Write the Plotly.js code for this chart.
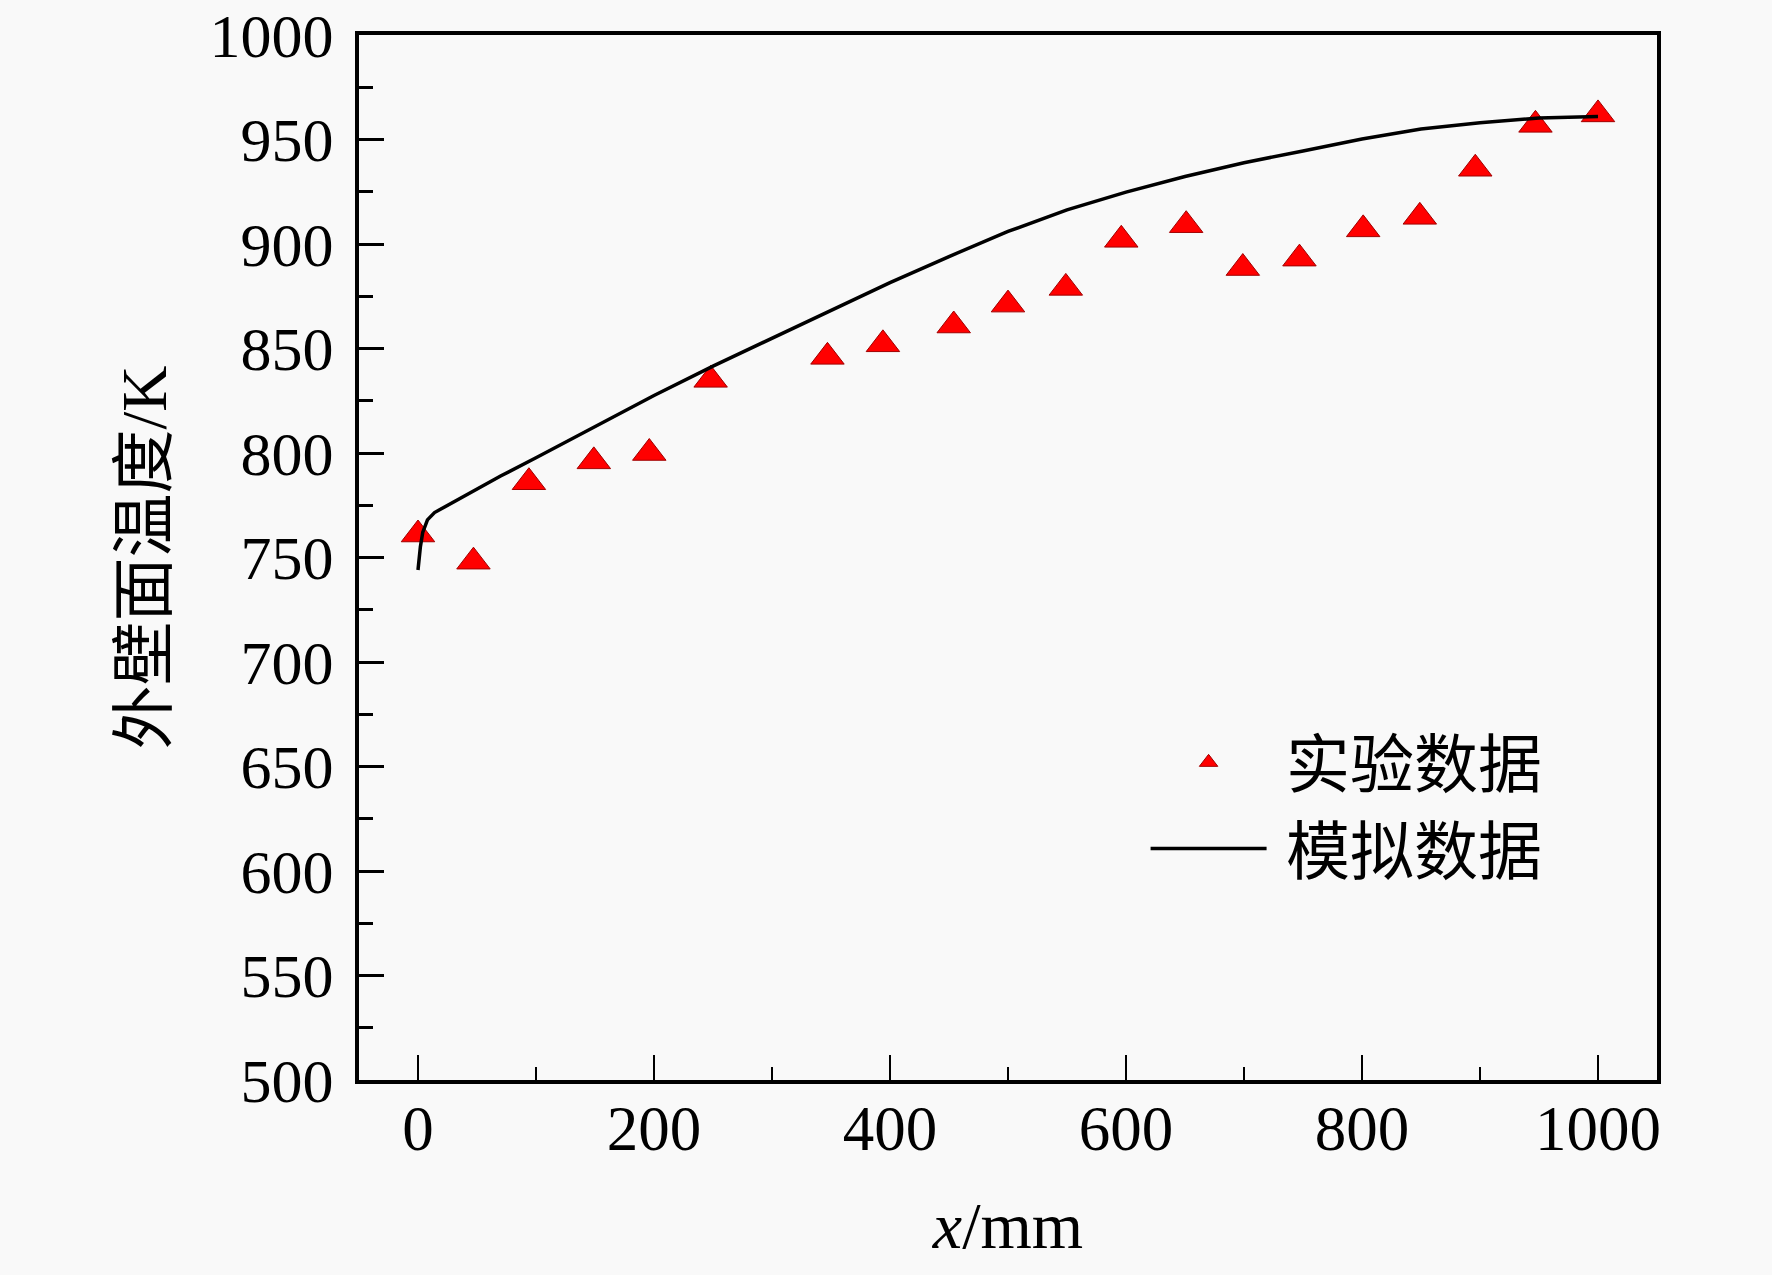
<!DOCTYPE html>
<html>
<head>
<meta charset="utf-8">
<script src="https://cdn.plot.ly/plotly-3.0.1.min.js"></script>
<style>
  html, body { margin: 0; padding: 0; background: #f9f9f9; }
  #chart { width: 1772px; height: 1275px; }
</style>
</head>
<body>
<div id="chart"></div>
<script>
// experimental points (x in mm, outer wall temperature in K)
const expX = [0, 47, 94, 149, 196, 248, 347, 394, 454, 500, 549, 596, 651, 699, 747, 801, 849, 896, 947, 1000];
const expT = [761, 748, 786, 796, 800, 835, 846, 852, 861, 871, 879, 902, 909, 888.5, 893, 907, 913, 936, 957, 962];

// simulated curve
const simX = [0, 1, 2, 4, 8, 14, 25, 42, 70, 100, 150, 200, 250, 300, 350, 400, 450, 500, 550, 600, 650, 700, 750, 800, 850, 900, 950, 1000];
const simT = [744, 750, 755, 762, 768, 771.5, 775, 780.5, 789, 797.7, 812.7, 827.5, 841.6, 855, 868.5, 881.5, 894, 906, 916.3, 924.8, 932.3, 938.9, 944.5, 950.2, 955, 958, 960.3, 961];

const yTicks = [500, 550, 600, 650, 700, 750, 800, 850, 900, 950, 1000];
const xTicks = [0, 200, 400, 600, 800, 1000];

const serif = 'Liberation Serif, "Noto Sans CJK SC", serif';

let expTrace = {
  x: expX,
  y: expT,
  name: '\u00a0实验数据',
  type: 'scatter',
  mode: 'markers',
  marker: {
    symbol: 'triangle-up',
    size: 29,
    color: '#ff0000',
    line: {color: '#a00000', width: 1}
  }
};

let simTrace = {
  x: simX,
  y: simT,
  name: '\u00a0模拟数据',
  type: 'scatter',
  mode: 'lines',
  line: {color: '#000000', width: 3.5}
};

let layout = {
  width: 1772,
  height: 1275,
  paper_bgcolor: '#f9f9f9',
  plot_bgcolor: '#f9f9f9',
  margin: {l: 359, r: 115, t: 35, b: 195},
  font: {family: serif, color: '#000', size: 63},
  showlegend: true,
  legend: {
    x: 0.606,
    y: 0.35,
    xanchor: 'left',
    yanchor: 'top',
    bgcolor: 'rgba(0,0,0,0)',
    borderwidth: 0,
    itemwidth: 116,
    font: {family: '"Noto Sans CJK SC", sans-serif', size: 64, color: '#000'}
  },
  xaxis: {
    range: [-50, 1050],
    tickvals: xTicks,
    ticktext: xTicks.map(String),
    ticks: 'inside',
    ticklen: 25,
    tickwidth: 2.5,
    tickcolor: '#000',
    ticklabelstandoff: -10,
    minor: {dtick: 100, tick0: 0, ticks: 'inside', ticklen: 13, tickwidth: 2.5, tickcolor: '#000'},
    showline: true,
    linewidth: 4,
    linecolor: '#000',
    mirror: true,
    showgrid: false,
    zeroline: false,
    tickfont: {family: serif, size: 63},
    title: {text: '<i>x</i>/mm', font: {family: serif, size: 66}, standoff: 40}
  },
  yaxis: {
    range: [500, 1000],
    tickvals: yTicks,
    ticktext: yTicks.map(String),
    ticks: 'inside',
    ticklen: 25,
    tickwidth: 3,
    tickcolor: '#000',
    ticklabelstandoff: 9,
    minor: {dtick: 25, tick0: 500, ticks: 'inside', ticklen: 14, tickwidth: 3, tickcolor: '#000'},
    showline: true,
    linewidth: 4,
    linecolor: '#000',
    mirror: true,
    showgrid: false,
    zeroline: false,
    tickfont: {family: serif, size: 62},
    title: {text: '外壁面温度/K', font: {family: serif, size: 64}, standoff: 23}
  }
};

Plotly.newPlot('chart', [expTrace, simTrace], layout, {displayModeBar: false, staticPlot: true});
</script>
</body>
</html>
